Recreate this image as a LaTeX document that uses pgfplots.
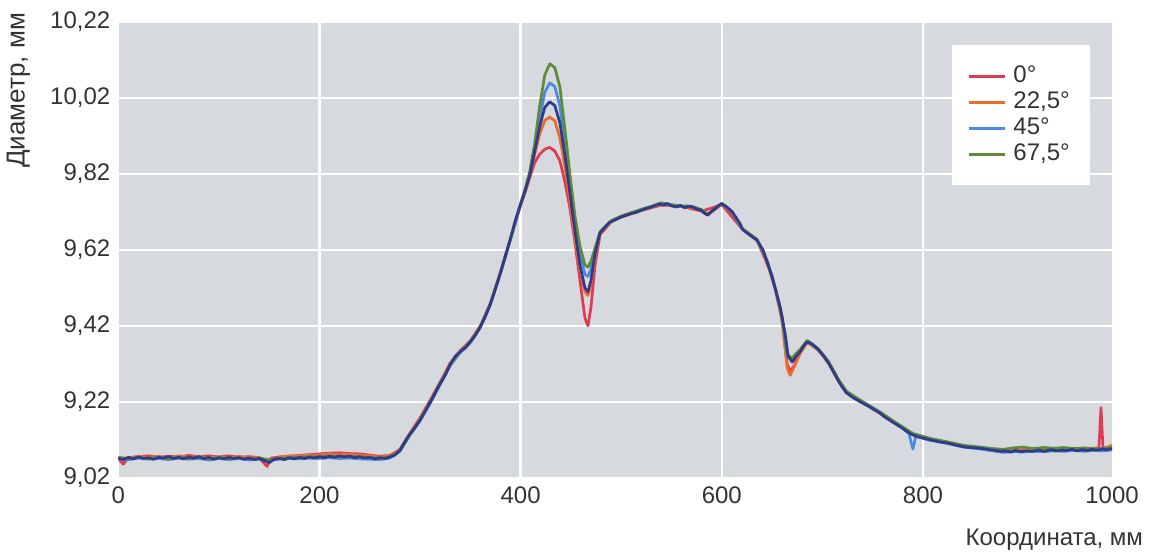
\documentclass[border=0pt]{standalone}
\usepackage{fontspec}
\setmainfont{Liberation Sans}
\usepackage{pgfplots}
\pgfplotsset{compat=1.18}
\definecolor{bgc}{HTML}{D6D9DE}
\definecolor{tickc}{HTML}{333333}
\definecolor{cred}{HTML}{E03A52}
\definecolor{corange}{HTML}{F06A28}
\definecolor{cblue}{HTML}{4A8AE0}
\definecolor{cgreen}{HTML}{5E8A3A}
\definecolor{cnavy}{HTML}{2E3A8C}
\begin{document}
\begin{tikzpicture}
\begin{axis}[
  scale only axis, width=497pt, height=228pt,
  xmin=0, xmax=988, ymin=9.02, ymax=10.22,
  axis background/.style={fill=bgc},
  axis line style={draw=none},
  major tick length=0pt,
  xtick={0,200,400,600,800}, xticklabels={0,200,400,600,800},
  extra x ticks={988}, extra x tick labels={1000},
  extra x tick style={grid=none},
  ytick={9.02,9.22,9.42,9.62,9.82,10.02,10.22},
  yticklabels={{9,02},{9,22},{9,42},{9,62},{9,82},{10,02},{10,22}},
  grid=major, grid style={white, line width=1.2pt},
  tick label style={font=\fontsize{12}{14}\selectfont, text=tickc},
  xticklabel style={yshift=-1pt},
  yticklabel style={xshift=-0.5pt},
  legend style={at={(rel axis cs:0.978,0.9496)}, anchor=north east,
    draw=none, fill=white, font=\fontsize{12}{12}\selectfont, text=tickc,
    inner xsep=8pt, inner ysep=9pt, row sep=0pt,
    nodes={text height=9pt, text depth=2.5pt, inner ysep=0.75pt}},
  legend cell align=left,
  legend image code/.code={\draw[#1] (0pt,0pt) -- (18pt,0pt); \path (19.5pt,0pt);},
  every axis plot/.append style={line width=1.35pt, line join=round},
]
% 0 deg
\addplot[cred] coordinates {
(0,9.070)(5,9.056)(10,9.073)(20,9.076)(30,9.078)(40,9.074)(50,9.077)(60,9.075)(70,9.079)(80,9.076)(90,9.078)(100,9.075)(110,9.078)(120,9.074)(130,9.076)(140,9.073)(148,9.050)(152,9.072)(160,9.075)(170,9.077)(180,9.079)(190,9.081)(200,9.083)(210,9.085)(220,9.086)(230,9.084)(240,9.083)(250,9.080)(260,9.077)(270,9.079)(280,9.095)(290,9.138)(300,9.178)(310,9.224)(320,9.272)(330,9.322)(340,9.355)(350,9.381)(360,9.420)(370,9.480)(380,9.562)(390,9.650)(400,9.738)(405,9.775)(409,9.81)(414,9.85)(419,9.872)(424,9.885)(429,9.89)(434,9.88)(439,9.855)(444,9.80)(449,9.73)(454,9.64)(459,9.54)(464,9.44)(467,9.42)(470,9.47)(474,9.58)(479,9.66)(490,9.694)(500,9.707)(520,9.724)(540,9.738)(560,9.735)(580,9.722)(600,9.739)(620,9.676)(635,9.646)(650,9.552)(660,9.44)(665,9.32)(668,9.300)(672,9.315)(678,9.352)(685,9.376)(696,9.358)(706,9.324)(716,9.276)(724,9.246)(740,9.219)(757,9.193)(774,9.162)(790,9.135)(807,9.122)(824,9.113)(840,9.104)(857,9.099)(870,9.093)(880,9.088)(890,9.091)(900,9.094)(910,9.090)(920,9.095)(930,9.092)(940,9.097)(950,9.093)(960,9.098)(970,9.096)(975,9.100)(977,9.205)(979,9.100)(983,9.098)(988,9.103)
};
\addlegendentry{0°}
% 22.5 deg
\addplot[corange] coordinates {
(0,9.074)(10,9.071)(20,9.077)(30,9.073)(40,9.077)(50,9.072)(60,9.078)(70,9.074)(80,9.077)(90,9.073)(100,9.076)(110,9.072)(120,9.077)(130,9.072)(140,9.074)(150,9.064)(160,9.075)(170,9.078)(180,9.077)(190,9.080)(200,9.079)(210,9.083)(220,9.081)(230,9.082)(240,9.079)(250,9.078)(260,9.075)(270,9.077)(280,9.094)(290,9.136)(300,9.176)(310,9.221)(320,9.270)(330,9.320)(340,9.353)(350,9.379)(360,9.419)(370,9.479)(380,9.561)(390,9.651)(400,9.739)(405,9.778)(409,9.815)(414,9.87)(419,9.925)(424,9.96)(429,9.97)(434,9.96)(439,9.915)(444,9.84)(449,9.75)(454,9.65)(459,9.57)(464,9.51)(467,9.50)(470,9.53)(474,9.60)(479,9.664)(490,9.695)(500,9.706)(510,9.715)(520,9.725)(530,9.732)(540,9.740)(550,9.737)(560,9.734)(570,9.732)(580,9.724)(586,9.711)(600,9.740)(610,9.720)(620,9.675)(635,9.645)(645,9.588)(654,9.508)(660,9.43)(665,9.31)(668,9.290)(672,9.312)(678,9.348)(685,9.377)(696,9.356)(706,9.322)(716,9.274)(724,9.243)(740,9.218)(757,9.190)(774,9.161)(790,9.134)(807,9.121)(824,9.111)(840,9.103)(857,9.097)(870,9.092)(880,9.090)(890,9.094)(900,9.092)(910,9.095)(920,9.093)(930,9.097)(940,9.094)(950,9.098)(960,9.095)(970,9.099)(980,9.097)(988,9.106)
};
\addlegendentry{22,5°}
% 45 deg
\addplot[cblue] coordinates {
(0,9.070)(10,9.068)(20,9.072)(30,9.069)(40,9.071)(50,9.068)(60,9.072)(70,9.069)(80,9.071)(90,9.067)(100,9.071)(110,9.068)(120,9.071)(130,9.067)(140,9.069)(150,9.066)(160,9.069)(170,9.071)(180,9.070)(190,9.072)(200,9.071)(210,9.073)(220,9.071)(230,9.072)(240,9.070)(250,9.069)(260,9.068)(270,9.072)(280,9.090)(290,9.133)(300,9.170)(310,9.216)(320,9.266)(330,9.316)(340,9.350)(350,9.376)(360,9.416)(370,9.476)(380,9.558)(390,9.648)(400,9.741)(405,9.782)(409,9.82)(414,9.89)(419,9.965)(424,10.035)(429,10.06)(434,10.05)(439,10.00)(444,9.90)(449,9.79)(454,9.69)(459,9.61)(464,9.555)(467,9.55)(470,9.57)(474,9.62)(479,9.667)(490,9.696)(500,9.708)(510,9.717)(520,9.726)(530,9.734)(540,9.743)(550,9.738)(560,9.735)(570,9.734)(580,9.725)(586,9.713)(600,9.742)(610,9.721)(620,9.676)(635,9.647)(645,9.591)(654,9.512)(660,9.44)(665,9.34)(670,9.33)(674,9.345)(678,9.356)(685,9.380)(696,9.358)(706,9.325)(716,9.277)(724,9.246)(740,9.218)(757,9.192)(774,9.161)(786,9.138)(790,9.096)(793,9.130)(807,9.119)(824,9.111)(840,9.101)(857,9.096)(870,9.091)(880,9.087)(890,9.089)(900,9.088)(910,9.090)(920,9.089)(930,9.091)(940,9.090)(950,9.092)(960,9.090)(970,9.092)(980,9.091)(988,9.094)
};
\addlegendentry{45°}
% 67.5 deg
\addplot[cgreen] coordinates {
(0,9.073)(10,9.070)(20,9.074)(30,9.071)(40,9.075)(50,9.070)(60,9.075)(70,9.071)(80,9.074)(90,9.070)(100,9.074)(110,9.070)(120,9.073)(130,9.070)(140,9.072)(150,9.068)(160,9.071)(170,9.074)(180,9.073)(190,9.076)(200,9.075)(210,9.078)(220,9.076)(230,9.077)(240,9.075)(250,9.074)(260,9.072)(270,9.075)(280,9.092)(290,9.134)(300,9.173)(310,9.219)(320,9.268)(330,9.318)(340,9.352)(350,9.378)(360,9.418)(370,9.478)(380,9.560)(390,9.650)(400,9.742)(405,9.785)(409,9.825)(414,9.90)(419,10.00)(424,10.08)(429,10.11)(434,10.10)(439,10.05)(444,9.94)(449,9.82)(454,9.71)(459,9.63)(464,9.58)(467,9.575)(470,9.59)(474,9.625)(479,9.668)(490,9.697)(500,9.709)(510,9.718)(520,9.727)(530,9.735)(540,9.744)(550,9.739)(560,9.736)(570,9.735)(580,9.726)(586,9.714)(600,9.743)(610,9.722)(620,9.677)(635,9.648)(645,9.592)(654,9.513)(660,9.445)(665,9.345)(670,9.335)(674,9.348)(678,9.358)(685,9.382)(696,9.360)(706,9.327)(716,9.279)(724,9.248)(740,9.221)(757,9.194)(774,9.164)(790,9.137)(807,9.124)(824,9.115)(840,9.106)(857,9.101)(870,9.097)(880,9.095)(890,9.099)(900,9.101)(910,9.097)(920,9.100)(930,9.098)(940,9.100)(950,9.097)(960,9.099)(970,9.096)(980,9.098)(988,9.100)
};
\addlegendentry{67,5°}
% unlabelled dark series
\addplot[cnavy, forget plot] coordinates {
(0,9.072)(5,9.068)(10,9.074)(15,9.070)(20,9.075)(25,9.071)(30,9.073)(35,9.069)(40,9.074)(45,9.072)(50,9.076)(55,9.071)(60,9.074)(65,9.070)(70,9.075)(75,9.072)(80,9.076)(85,9.071)(90,9.074)(95,9.069)(100,9.073)(105,9.070)(110,9.074)(115,9.071)(120,9.073)(125,9.069)(130,9.072)(135,9.068)(140,9.071)(145,9.066)(150,9.060)(155,9.069)(160,9.072)(165,9.068)(170,9.073)(175,9.070)(180,9.074)(185,9.071)(190,9.075)(195,9.072)(200,9.076)(205,9.073)(210,9.077)(215,9.074)(220,9.078)(225,9.075)(230,9.077)(235,9.073)(240,9.076)(245,9.072)(250,9.074)(255,9.070)(260,9.073)(265,9.071)(270,9.075)(275,9.080)
(280,9.092)(285,9.115)(290,9.135)(295,9.152)(300,9.172)(305,9.195)(310,9.218)(315,9.243)(320,9.268)(325,9.290)(330,9.318)(335,9.340)(340,9.352)(345,9.362)(350,9.378)(355,9.395)(360,9.418)(365,9.445)(370,9.478)(375,9.518)(380,9.560)(385,9.605)(390,9.650)(395,9.700)(400,9.740)(405,9.780)(409,9.815)
(414,9.88)(419,9.945)(424,9.995)(429,10.01)(434,10.00)(439,9.955)(444,9.87)(449,9.77)(454,9.67)(459,9.58)(464,9.52)(467,9.51)(470,9.54)(474,9.61)(479,9.665)
(484,9.680)(488,9.692)(493,9.698)(497,9.703)(501,9.708)(506,9.712)(510,9.716)(514,9.718)(518,9.722)(522,9.726)(526,9.730)(530,9.733)(534,9.737)(538,9.741)(542,9.738)(546,9.742)(550,9.736)(555,9.733)(559,9.737)(563,9.731)(567,9.735)(571,9.733)(575,9.728)(579,9.725)(583,9.716)(586,9.712)(590,9.722)(594,9.730)(597,9.737)(600,9.741)(604,9.735)(608,9.726)(611,9.718)(615,9.702)(618,9.690)(621,9.673)(625,9.665)(630,9.655)(635,9.646)(641,9.620)(645,9.590)(650,9.550)(654,9.510)(658,9.470)(663,9.400)(666,9.340)(670,9.325)(674,9.340)(678,9.352)(682,9.370)(685,9.378)(690,9.372)(696,9.357)(701,9.342)(706,9.323)(711,9.300)(716,9.275)(720,9.258)(724,9.244)(730,9.232)(735,9.224)(740,9.217)(745,9.210)(750,9.202)(757,9.191)(762,9.180)(768,9.170)(774,9.160)(780,9.150)(785,9.140)(790,9.133)(795,9.128)(801,9.124)(807,9.120)(813,9.117)(818,9.114)(824,9.112)(830,9.108)(835,9.105)(840,9.102)(846,9.100)(851,9.099)(857,9.098)(862,9.096)(867,9.094)(872,9.092)(877,9.090)(882,9.091)(887,9.088)(892,9.092)(897,9.089)(902,9.091)(909,9.090)(915,9.093)(921,9.090)(927,9.094)(933,9.091)(938,9.093)(943,9.092)(948,9.095)(953,9.091)(958,9.094)(963,9.092)(968,9.095)(973,9.093)(978,9.096)(983,9.094)(988,9.097)
};
\end{axis}
\node[rotate=90, anchor=east, font=\fontsize{13}{15}\selectfont, text=tickc]
  at ([xshift=-50pt,yshift=8pt]current axis.north west) {Диаметр, мм};
\node[anchor=east, font=\fontsize{12}{14}\selectfont, text=tickc]
  at ([xshift=19pt,yshift=-31pt]current axis.south east) {Координата, мм};
\path ([xshift=-59pt,yshift=-38pt]current axis.south west) rectangle ([xshift=19.5pt,yshift=11pt]current axis.north east);
\end{tikzpicture}
\end{document}
